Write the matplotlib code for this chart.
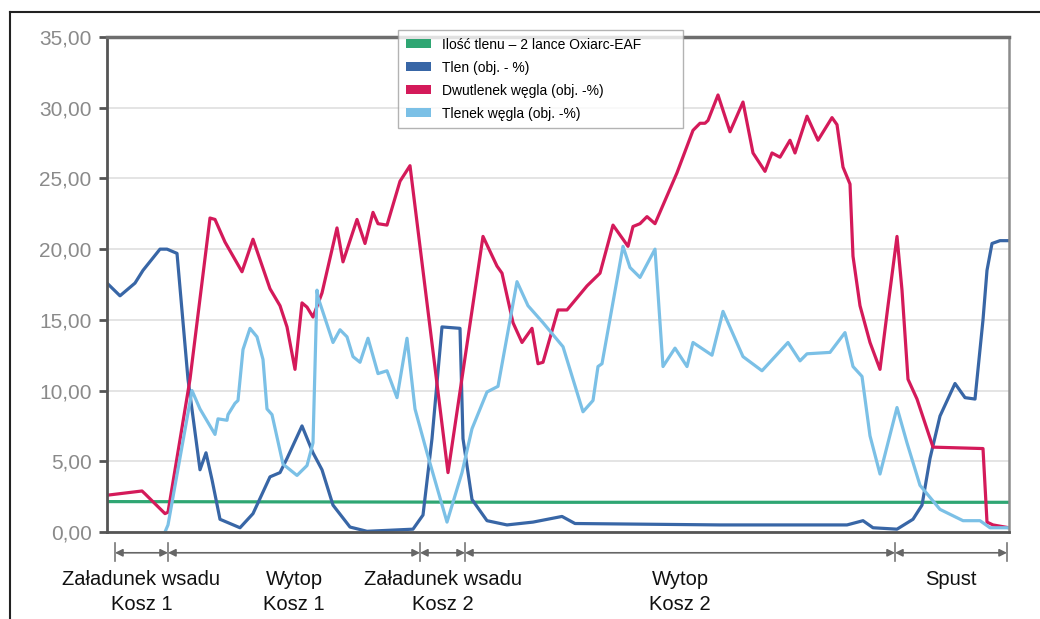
import matplotlib
matplotlib.use("Agg")
import matplotlib.pyplot as plt
from matplotlib.lines import Line2D
from matplotlib.patches import Patch
from matplotlib.ticker import FuncFormatter

# czas w umownych jednostkach (os X bez podzialki)
tlen_t = [0, 13, 28, 36, 53, 60, 70, 81, 93, 99, 105, 113, 133, 146, 163, 173, 180, 195, 206, 215,
          226, 243, 260, 306, 316, 325, 335, 353, 356, 365, 380, 400, 426, 455, 468, 613, 740, 756,
          766, 790, 806, 815, 823, 833, 848, 858, 868, 876, 880, 885, 893, 902]
tlen = [17.6, 16.7, 17.6, 18.5, 20.0, 20.0, 19.7, 10.8, 4.4, 5.6, 3.7, 0.9, 0.3, 1.3, 3.9, 4.2, 5.2,
        7.5, 5.6, 4.4, 1.9, 0.35, 0.05, 0.2, 1.2, 6.6, 14.5, 14.4, 6.6, 2.3, 0.8, 0.5, 0.7, 1.1, 0.6,
        0.5, 0.5, 0.8, 0.3, 0.2, 0.9, 1.9, 5.2, 8.2, 10.5, 9.5, 9.4, 15.0, 18.5, 20.4, 20.6, 20.6]

co2_t = [0, 35, 38, 58, 61, 83, 103, 108, 118, 135, 146, 163, 173, 180, 188, 195, 200, 206, 215, 230,
         236, 250, 258, 266, 271, 280, 293, 303, 341, 376, 390, 395, 406, 415, 425, 431, 436, 451, 460,
         480, 493, 506, 521, 526, 533, 540, 548, 570, 586, 593, 598, 601, 611, 623, 636, 646, 658, 665,
         673, 683, 688, 700, 711, 725, 730, 736, 743, 746, 753, 763, 773, 781, 790, 795, 801, 810, 826,
         876, 880, 886, 902]
co2 = [2.6, 2.9, 2.7, 1.3, 1.4, 10.8, 22.2, 22.1, 20.5, 18.4, 20.7, 17.2, 16.0, 14.5, 11.5, 16.2, 15.9,
       15.2, 16.9, 21.5, 19.1, 22.1, 20.4, 22.6, 21.8, 21.7, 24.8, 25.9, 4.2, 20.9, 18.8, 18.3, 14.8,
       13.4, 14.4, 11.9, 12.0, 15.7, 15.7, 17.4, 18.3, 21.7, 20.2, 21.6, 21.8, 22.3, 21.8, 25.4, 28.4,
       28.9, 28.9, 29.1, 30.9, 28.3, 30.4, 26.8, 25.5, 26.8, 26.5, 27.7, 26.8, 29.4, 27.7, 29.3, 28.8,
       25.8, 24.6, 19.5, 16.0, 13.4, 11.5, 16.0, 20.9, 17.1, 10.8, 9.4, 6.0, 5.9, 0.7, 0.5, 0.3]

co_t = [58, 61, 85, 93, 108, 111, 120, 121, 128, 131, 136, 143, 150, 156, 160, 165, 176, 190, 200, 206,
        210, 211, 226, 233, 240, 246, 253, 261, 271, 280, 290, 300, 308, 320, 340, 355, 365, 380, 391,
        410, 421, 436, 456, 476, 486, 491, 495, 516, 523, 533, 548, 556, 568, 580, 586, 605, 616, 636,
        655, 681, 693, 700, 723, 738, 746, 755, 763, 773, 790, 800, 813, 833, 856, 873, 883, 902]
co = [0.0, 0.5, 10.0, 8.7, 6.9, 8.0, 7.9, 8.3, 9.1, 9.3, 12.9, 14.4, 13.8, 12.2, 8.7, 8.3, 4.8, 4.0,
      4.7, 6.3, 17.1, 16.6, 13.4, 14.3, 13.8, 12.4, 12.0, 13.7, 11.2, 11.4, 9.5, 13.7, 8.7, 5.6, 0.7,
      4.2, 7.3, 9.9, 10.3, 17.7, 16.0, 14.8, 13.1, 8.5, 9.3, 11.7, 11.9, 20.2, 18.7, 18.0, 20.0, 11.7,
      13.0, 11.7, 13.4, 12.5, 15.6, 12.4, 11.4, 13.4, 12.1, 12.6, 12.7, 14.1, 11.7, 11.0, 6.8, 4.1,
      8.8, 6.3, 3.3, 1.6, 0.8, 0.8, 0.3, 0.3]

oxy_t = [0, 450, 902]
oxy = [2.15, 2.1, 2.1]

phase_edges = [8, 61, 313, 358, 788, 900]
phase_labels = ["Załadunek wsadu\nKosz 1", "Wytop\nKosz 1", "Załadunek wsadu\nKosz 2",
                "Wytop\nKosz 2", "Spust"]

legend_labels = ["Ilość tlenu – 2 lance Oxiarc-EAF", "Tlen (obj. - %)",
                 "Dwutlenek węgla (obj. -%)", "Tlenek węgla (obj. -%)"]
colors = ["#2fa673", "#3866a6", "#d41a5a", "#7bc0e6"]

plt.rcParams["font.family"] = ["Liberation Sans", "DejaVu Sans"]

fig = plt.figure(figsize=(10.4, 6.19), dpi=100)
ax = fig.add_axes([107/1040, 1-532/619, 902/1040, 495/619])

lw = 2.3
ax.plot(oxy_t, oxy, color=colors[0], lw=lw, solid_joinstyle="round")
ax.plot(tlen_t, tlen, color=colors[1], lw=lw, solid_joinstyle="round")
ax.plot(co2_t, co2, color=colors[2], lw=lw, solid_joinstyle="round")
ax.plot(co_t, co, color=colors[3], lw=lw, solid_joinstyle="round")

ax.set_xlim(0, 902)
ax.set_ylim(0, 35)
ax.set_yticks(range(0, 36, 5))
ax.yaxis.set_major_formatter(FuncFormatter(lambda v, p: f"{v:.2f}".replace(".", ",")))
ax.set_xticks([])
ax.grid(axis="y", color="#e2e2e2", lw=1.3)
ax.set_axisbelow(True)
ax.tick_params(axis="y", direction="out", length=6, width=2, color="#555555",
               labelsize=15, labelcolor="#8a8a8a", pad=5)
ax.spines["left"].set_color("#555555")
ax.spines["left"].set_linewidth(2)
ax.spines["bottom"].set_color("#555555")
ax.spines["bottom"].set_linewidth(2)
ax.spines["top"].set_color("#6e6e6e")
ax.spines["top"].set_linewidth(2.5)
ax.spines["right"].set_color("#8c8c8c")
ax.spines["right"].set_linewidth(1.8)

# fazy procesu pod osia
tr = ax.get_xaxis_transform()
for e in phase_edges:
    ax.plot([e, e], [-0.022, -0.058], transform=tr, color="#777777", lw=1.2, clip_on=False)
for a, b in zip(phase_edges[:-1], phase_edges[1:]):
    ax.annotate("", xy=(b, -0.042), xytext=(a, -0.042), xycoords=tr, textcoords=tr,
                annotation_clip=False,
                arrowprops=dict(arrowstyle="<|-|>", color="#666666", lw=1.2,
                                mutation_scale=11, shrinkA=0, shrinkB=0))
for a, b, lab in zip(phase_edges[:-1], phase_edges[1:], phase_labels):
    yy = -0.122 if "\n" in lab else -0.095
    ax.text((a + b) / 2, yy, lab, transform=tr, ha="center", va="center",
            fontsize=14.5, color="#111111", linespacing=1.4)

handles = [Patch(facecolor=c, edgecolor="none") for c in colors]
leg = fig.legend(handles, legend_labels, loc="upper left", mode="expand",
                 bbox_to_anchor=(398/1040, 1-129/619, 285/1040, 99/619),
                 bbox_transform=fig.transFigure, fontsize=10, frameon=True, fancybox=False,
                 edgecolor="#a0a0a0", handlelength=1.8, handleheight=0.6, handletextpad=0.8,
                 labelspacing=0.65, borderpad=0.55, borderaxespad=0)
leg.get_frame().set_linewidth(1.0)
leg.set_zorder(10)

# ramka rysunku
fig.add_artist(Line2D([9.5/1040, 9.5/1040], [0, 1-12/619], transform=fig.transFigure,
                      color="#222222", lw=1.5))
fig.add_artist(Line2D([9.5/1040, 1], [1-12/619, 1-12/619], transform=fig.transFigure,
                      color="#222222", lw=1.5))

fig.savefig("out.png", dpi=100)
